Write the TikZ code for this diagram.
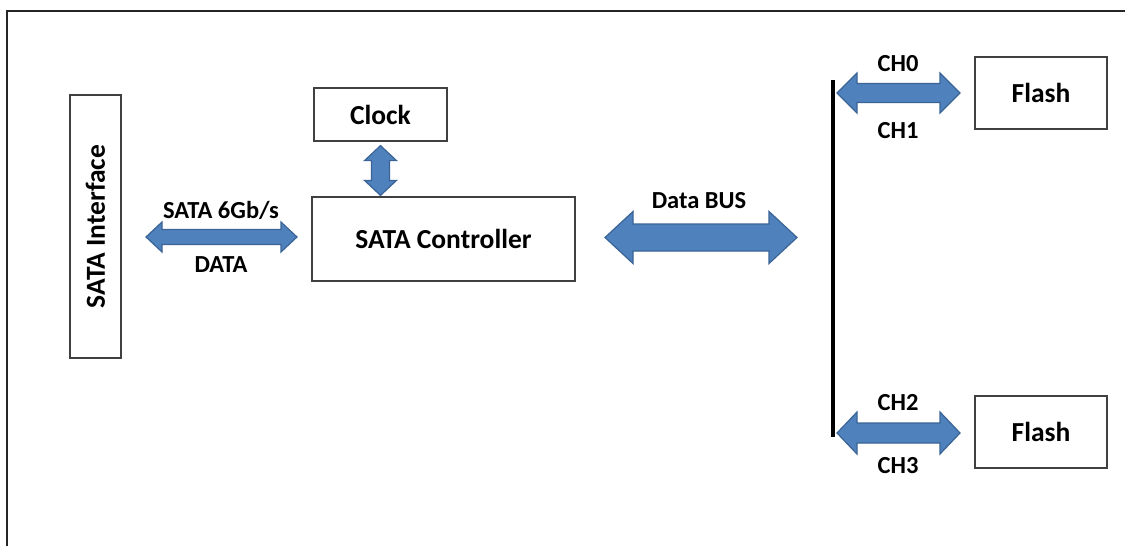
\documentclass[tikz,border=0pt]{standalone}
\usepackage{fontspec}
\setmainfont{Carlito}
\usetikzlibrary{calc}
\definecolor{arrowfill}{HTML}{4F81BD}
\definecolor{arrowline}{HTML}{3A6496}
\definecolor{boxline}{HTML}{404040}
\newcommand\hblock[5]{%
  \filldraw[blk] (#1) -- ($(#1)+(#5,#4)$) -- ($(#1)+(#5,#3)$) -- ($(#2)+(-#5,#3)$) -- ($(#2)+(-#5,#4)$) -- (#2) -- ($(#2)+(-#5,-#4)$) -- ($(#2)+(-#5,-#3)$) -- ($(#1)+(#5,-#3)$) -- ($(#1)+(#5,-#4)$) -- cycle;}
\newcommand\vblock[5]{%
  \filldraw[blk] (#1) -- ($(#1)+(#4,#5)$) -- ($(#1)+(#3,#5)$) -- ($(#2)+(#3,-#5)$) -- ($(#2)+(#4,-#5)$) -- (#2) -- ($(#2)+(-#4,-#5)$) -- ($(#2)+(-#3,-#5)$) -- ($(#1)+(-#3,#5)$) -- ($(#1)+(-#4,#5)$) -- cycle;}
\begin{document}
\begin{tikzpicture}[x=1pt,y=-1pt,
  box/.style={draw=boxline, line width=1.2pt, fill=white, inner sep=0pt, font=\bfseries\fontsize{27.5}{31}\selectfont},
  lbl/.style={font=\bfseries\fontsize{24.5}{28}\selectfont, inner sep=0pt, anchor=base},
  blk/.style={fill=arrowfill, draw=arrowline, line width=1.2pt, line join=miter}]
\useasboundingbox (0,0) rectangle (1125,546);
\clip (0,0) rectangle (1125,546);
\fill[white] (0,0) rectangle (1125,546);
\draw[line width=1.5pt, black!85] (7,570) -- (7,11) -- (1140,11);
% boxes
\node[box, rotate=90, minimum width=263, minimum height=51] (sif) at (95.5,226.5) {SATA Interface};
\node[box, minimum width=133, minimum height=53] (clk) at (380.5,114.5) {Clock};
\node[box, minimum width=263, minimum height=84] (ctl) at (443.5,239) {SATA Controller};
\node[box, minimum width=132, minimum height=72] (fl1) at (1041,93) {Flash};
\node[box, minimum width=132, minimum height=72] (fl2) at (1041,432) {Flash};
% bus bar
\coordinate (bt) at (833,80);
\coordinate (bb) at (833,437);
\draw[line width=4pt] (bt) -- (bb);
% arrow end points
\coordinate (sa1) at (146,237);
\coordinate (sa2) at (297,237);
\coordinate (ca1) at ($(clk.south)+(0,4)$);
\coordinate (ca2) at ($(clk.south |- ctl.north)+(0,-1)$);
\coordinate (da1) at (605,237.5);
\coordinate (da2) at (797,237.5);
\coordinate (c0a) at (837,93);
\coordinate (c0b) at (960,93);
\coordinate (c2a) at (837,433);
\coordinate (c2b) at (960,433);
\hblock{sa1}{sa2}{7.5}{15}{16}
\vblock{ca1}{ca2}{9}{16}{15}
\hblock{da1}{da2}{13.5}{26}{28}
\hblock{c0a}{c0b}{9.5}{20}{20}
\hblock{c2a}{c2b}{10}{21}{20}
% labels
\node[lbl] (l1) at (221,218) {SATA 6Gb/s};
\node[lbl] (l2) at (221,272) {DATA};
\node[lbl] (l3) at (699,208) {Data BUS};
\node[lbl] (l4) at (898,71) {CH0};
\node[lbl] (l5) at (898,138) {CH1};
\node[lbl] (l6) at (898,410) {CH2};
\node[lbl] (l7) at (898,473) {CH3};
\end{tikzpicture}
\end{document}
